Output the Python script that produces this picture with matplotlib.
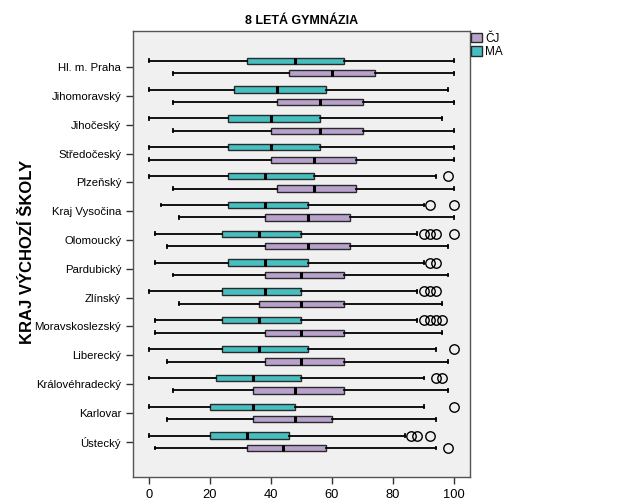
import matplotlib
matplotlib.use("Agg")
import matplotlib.pyplot as plt
from matplotlib.patches import Patch

plt.rcParams['font.family'] = ['Liberation Sans', 'DejaVu Sans']

regions = ['Hl. m. Praha', 'Jihomoravský', 'Jihočeský', 'Středočeský', 'Plzeňský',
           'Kraj Vysočina', 'Olomoucký', 'Pardubický', 'Zlínský', 'Moravskoslezský',
           'Liberecký', 'Královéhradecký', 'Karlovar', 'Ústecký']

# MA: whisker low, Q1, median, Q3, whisker high
ma_low = [0, 0, 0, 0, 0, 4, 2, 2, 0, 2, 0, 0, 0, 0]
ma_q1 = [32, 28, 26, 26, 26, 26, 24, 26, 24, 24, 24, 22, 20, 20]
ma_med = [48, 42, 40, 40, 38, 38, 36, 38, 38, 36, 36, 34, 34, 32]
ma_q3 = [64, 58, 56, 56, 54, 52, 50, 52, 50, 50, 52, 50, 48, 46]
ma_high = [100, 98, 96, 100, 94, 90, 88, 90, 88, 88, 94, 90, 90, 84]
ma_out = [[], [], [], [], [98], [92, 100], [90, 92, 94, 100], [92, 94],
          [90, 92, 94], [90, 92, 94, 96], [100], [94, 96], [100], [86, 88, 92]]

# ČJ
cj_low = [8, 8, 8, 0, 8, 10, 6, 8, 10, 2, 6, 8, 6, 2]
cj_q1 = [46, 42, 40, 40, 42, 38, 38, 38, 36, 38, 38, 34, 34, 32]
cj_med = [60, 56, 56, 54, 54, 52, 52, 50, 50, 50, 50, 48, 48, 44]
cj_q3 = [74, 70, 70, 68, 68, 66, 66, 64, 64, 64, 64, 64, 60, 58]
cj_high = [100, 100, 100, 100, 100, 100, 98, 98, 96, 96, 98, 98, 94, 94]
cj_out = [[], [], [], [], [], [], [], [], [], [], [], [], [], [98]]

ma_color = '#45BFBF'
cj_color = '#B8A2CC'


def make_stats(low, q1, med, q3, high, out):
    return [dict(whislo=a, q1=b, med=c, q3=d, whishi=e, fliers=f)
            for a, b, c, d, e, f in zip(low, q1, med, q3, high, out)]


fig = plt.figure(figsize=(6.29, 5.04), dpi=100)
ax = fig.add_axes([0.2114, 0.0536, 0.5358, 0.8849])
ax.set_facecolor('#F0F0F0')

pos = list(range(len(regions)))
common = dict(vert=False, widths=0.22, patch_artist=True,
              medianprops=dict(color='black', linewidth=2.2),
              whiskerprops=dict(color='black', linewidth=1.3),
              capprops=dict(color='black', linewidth=1.3),
              flierprops=dict(marker='o', markerfacecolor='none',
                              markeredgecolor='black', markersize=6.8,
                              markeredgewidth=1.0),
              capwidths=0.1)

b1 = ax.bxp(make_stats(ma_low, ma_q1, ma_med, ma_q3, ma_high, ma_out),
            positions=[p - 0.215 for p in pos], **common)
b2 = ax.bxp(make_stats(cj_low, cj_q1, cj_med, cj_q3, cj_high, cj_out),
            positions=[p + 0.215 for p in pos], **common)
for box in b1['boxes']:
    box.set_facecolor(ma_color)
    box.set_edgecolor('#2a2a2a')
    box.set_linewidth(1.0)
for box in b2['boxes']:
    box.set_facecolor(cj_color)
    box.set_edgecolor('#2a2a2a')
    box.set_linewidth(1.0)

ax.set_ylim(14.22, -1.25)
ax.set_xlim(-5.2, 105.2)
ax.set_yticks(pos)
ax.set_yticklabels(regions, fontsize=8.2)
ax.set_xticks([0, 20, 40, 60, 80, 100])
ax.set_xticklabels(['0', '20', '40', '60', '80', '100'], fontsize=9.3)
ax.tick_params(axis='both', length=5, width=1, color='#333333')
for s in ax.spines.values():
    s.set_color('#555555')
    s.set_linewidth(1.0)

ax.set_title('8 LETÁ GYMNÁZIA', fontsize=9, fontweight='bold', pad=5)
fig.text(0.043, 0.5, 'KRAJ VÝCHOZÍ ŠKOLY', rotation=90, fontsize=12,
         fontweight='bold', ha='center', va='center')

handles = [Patch(facecolor=cj_color, edgecolor='#2a2a2a', label='ČJ'),
           Patch(facecolor=ma_color, edgecolor='#2a2a2a', label='MA')]
fig.legend(handles=handles, loc='upper left', bbox_to_anchor=(0.745, 0.94),
           frameon=False, fontsize=8.5, handlelength=0.9, handleheight=0.9,
           handletextpad=0.3, labelspacing=0.15, borderaxespad=0, borderpad=0.2)

fig.savefig('out.png', dpi=100)
